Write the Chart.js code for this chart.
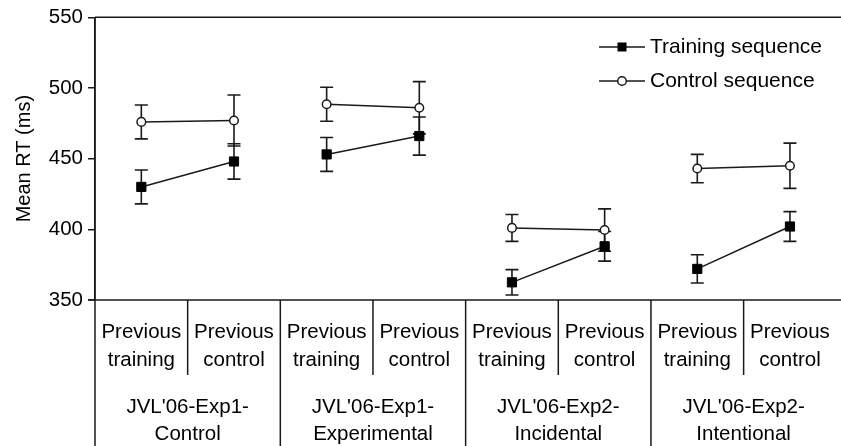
<!DOCTYPE html>
<html>
<head>
<meta charset="utf-8">
<script src="https://cdn.jsdelivr.net/npm/chart.js@4.4.1/dist/chart.umd.min.js"></script>
<style>
html,body{margin:0;padding:0;background:#fff;}
#wrap{width:841px;height:446px;position:relative;}
</style>
</head>
<body>
<div id="wrap"><canvas id="c" width="841" height="446"></canvas></div>
<script>
// ---- data ----
const conditions = ["Previous training", "Previous control", "Previous training", "Previous control", "Previous training", "Previous control", "Previous training", "Previous control"];
const condLine1 = ["Previous", "Previous", "Previous", "Previous", "Previous", "Previous", "Previous", "Previous"];
const condLine2 = ["training", "control", "training", "control", "training", "control", "training", "control"];
const groups = [["JVL'06-Exp1-", "Control"], ["JVL'06-Exp1-", "Experimental"], ["JVL'06-Exp2-", "Incidental"], ["JVL'06-Exp2-", "Intentional"]];
const trainingMean = [430, 448, 453, 466, 362.5, 388, 372, 402];
const trainingErr  = [12, 12.5, 12, 13.5, 9, 10.5, 10, 10.5];
const controlMean  = [476, 477, 488.5, 486, 401, 399.5, 443, 445];
const controlErr   = [12, 18, 12, 18.5, 9.5, 15, 10, 16];
const yTicks = [350, 400, 450, 500, 550];
const seriesNames = ["Training sequence", "Control sequence"];

const INK = '#1a1a1a';
const FONT = '"Liberation Sans", Arial, sans-serif';

const toPoints = arr => arr.map((v, i) => ({ x: i, y: v }));

const errorBars = {
  id: 'errorBars',
  beforeDatasetsDraw(chart) {
    const ctx = chart.ctx, y = chart.scales.y;
    const errs = [trainingErr, controlErr];
    const means = [trainingMean, controlMean];
    ctx.save();
    ctx.strokeStyle = INK; ctx.lineWidth = 1.6;
    chart.data.datasets.forEach((ds, di) => {
      const meta = chart.getDatasetMeta(di);
      meta.data.forEach((pt, i) => {
        const v = means[di][i], e = errs[di][i];
        const yt = y.getPixelForValue(v + e), yb = y.getPixelForValue(v - e);
        const x = pt.x;
        ctx.beginPath();
        ctx.moveTo(x, yt); ctx.lineTo(x, yb);
        ctx.moveTo(x - 6.5, yt); ctx.lineTo(x + 6.5, yt);
        ctx.moveTo(x - 6.5, yb); ctx.lineTo(x + 6.5, yb);
        ctx.stroke();
      });
    });
    ctx.restore();
  },
  afterDraw(chart) {
    const ctx = chart.ctx, x = chart.scales.x, ca = chart.chartArea;
    const H = chart.height, W = chart.width;
    ctx.save();
    ctx.strokeStyle = INK; ctx.lineWidth = 1.5;
    ctx.beginPath();
    ctx.moveTo(ca.left, ca.top); ctx.lineTo(W, ca.top);
    ctx.moveTo(ca.left - 7, ca.bottom); ctx.lineTo(W, ca.bottom);
    ctx.moveTo(ca.left, ca.top); ctx.lineTo(ca.left, H);
    ctx.stroke();
    const n = conditions.length;
    ctx.beginPath();
    for (let i = 1; i < n; i++) {
      const bx = x.getPixelForValue(i - 0.5);
      ctx.moveTo(bx, ca.bottom);
      ctx.lineTo(bx, i % 2 === 0 ? H : ca.bottom + 75);
    }
    ctx.stroke();
    ctx.fillStyle = '#000';
    ctx.font = '20.5px ' + FONT;
    ctx.textAlign = 'center'; ctx.textBaseline = 'middle';
    for (let i = 0; i < n; i++) {
      const cx = x.getPixelForValue(i);
      ctx.fillText(condLine1[i], cx, ca.bottom + 32);
      ctx.fillText(condLine2[i], cx, ca.bottom + 60);
    }
    groups.forEach((g, gi) => {
      const cx = x.getPixelForValue(gi * 2 + 0.5);
      ctx.fillText(g[0], cx, ca.bottom + 107);
      ctx.fillText(g[1], cx, ca.bottom + 134);
    });
    // legend
    const lx0 = 599, lx1 = 645, mx = 622, rows = [47, 81];
    ctx.textAlign = 'left';
    ctx.font = '21px ' + FONT;
    rows.forEach((ry, k) => {
      ctx.beginPath(); ctx.moveTo(lx0, ry); ctx.lineTo(lx1, ry); ctx.lineWidth = 1.5; ctx.stroke();
      if (k === 0) {
        ctx.fillStyle = '#000'; ctx.fillRect(mx - 4.5, ry - 4.5, 9, 9);
      } else {
        ctx.beginPath(); ctx.arc(mx, ry, 4.3, 0, Math.PI * 2);
        ctx.fillStyle = '#fff'; ctx.fill(); ctx.lineWidth = 1.5; ctx.stroke();
      }
      ctx.fillStyle = '#000';
      ctx.fillText(seriesNames[k], 650, ry);
    });
    ctx.restore();
  }
};

const seg = { borderColor: c => (c.p0DataIndex % 2 === 1 ? 'rgba(0,0,0,0)' : INK) };

new Chart(document.getElementById('c'), {
  type: 'line',
  data: {
    labels: conditions,
    datasets: [
      { label: seriesNames[0], data: toPoints(trainingMean), borderColor: INK, borderWidth: 1.5,
        pointStyle: 'rect', pointRadius: 6.5, pointBackgroundColor: '#000', pointBorderColor: '#000', pointBorderWidth: 1,
        segment: seg, tension: 0 },
      { label: seriesNames[1], data: toPoints(controlMean), borderColor: INK, borderWidth: 1.5,
        pointStyle: 'circle', pointRadius: 4.3, pointBackgroundColor: '#fff', pointBorderColor: INK, pointBorderWidth: 1.5,
        segment: seg, tension: 0 }
    ]
  },
  options: {
    responsive: false, animation: false,
    layout: { padding: { top: 16, right: 0, bottom: 146, left: 0 } },
    plugins: { legend: { display: false }, tooltip: { enabled: false } },
    scales: {
      x: { type: 'linear', min: -0.5, max: 7.47, display: false },
      y: {
        min: 350, max: 550,
        afterBuildTicks: s => { s.ticks = yTicks.map(v => ({ value: v })); },
        afterFit: s => { s.width = 95; },
        ticks: { color: '#000', font: { size: 20.5, family: FONT }, padding: 5 },
        grid: { drawOnChartArea: false, tickLength: 7, color: INK, lineWidth: 1.5 },
        border: { display: true, color: INK, width: 1.5 },
        title: { display: true, text: 'Mean RT (ms)', color: '#000', font: { size: 20, family: FONT }, padding: { top: 12, bottom: 0 } }
      }
    }
  },
  plugins: [errorBars]
});
</script>
</body>
</html>
